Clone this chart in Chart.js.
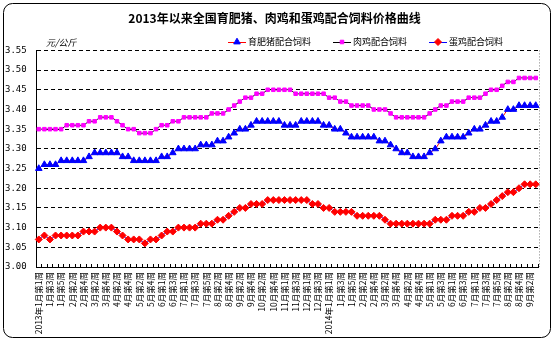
<!DOCTYPE html>
<html>
<head>
<meta charset="utf-8">
<script src="https://cdn.jsdelivr.net/npm/chart.js@4/dist/chart.umd.min.js"></script>
<style>
  html, body { margin: 0; padding: 0; background: #fff; }
  canvas { display: block; }
</style>
</head>
<body>
<canvas id="c" width="554" height="341"></canvas>
<script>
/*
** Chart data
*/
var title = "2013年以来全国育肥猪、肉鸡和蛋鸡配合饲料价格曲线";
var unit = "元/公斤";
var seriesNames = ["育肥猪配合饲料", "肉鸡配合饲料", "蛋鸡配合饲料"];

var weeks = [
  "2013年1月第1周", "1月第2周", "1月第3周", "1月第4周", "1月第5周", "2月第1周", "2月第2周", "2月第3周", "2月第4周", "3月第1周",
  "3月第2周", "3月第3周", "3月第4周", "4月第1周", "4月第2周", "4月第3周", "4月第4周", "5月第1周", "5月第2周", "5月第3周",
  "5月第4周", "5月第5周", "6月第1周", "6月第2周", "6月第3周", "6月第4周", "7月第1周", "7月第2周", "7月第3周", "7月第4周",
  "7月第5周", "8月第1周", "8月第2周", "8月第3周", "8月第4周", "9月第1周", "9月第2周", "9月第3周", "9月第4周", "10月第1周",
  "10月第2周", "10月第3周", "10月第4周", "10月第5周", "11月第1周", "11月第2周", "11月第3周", "11月第4周", "12月第1周", "12月第2周",
  "12月第3周", "12月第4周", "2014年1月第1周", "1月第2周", "1月第3周", "1月第4周", "1月第5周", "2月第1周", "2月第2周", "2月第3周",
  "2月第4周", "3月第1周", "3月第2周", "3月第3周", "3月第4周", "4月第1周", "4月第2周", "4月第3周", "4月第4周", "4月第5周",
  "5月第1周", "5月第2周", "5月第3周", "5月第4周", "6月第1周", "6月第2周", "6月第3周", "6月第4周", "7月第1周", "7月第2周",
  "7月第3周", "7月第4周", "7月第5周", "8月第1周", "8月第2周", "8月第3周", "8月第4周", "9月第1周", "9月第2周", "9月第3周"
];

var pork = [
  3.25, 3.26, 3.26, 3.26, 3.27, 3.27, 3.27, 3.27, 3.27, 3.28,
  3.29, 3.29, 3.29, 3.29, 3.29, 3.28, 3.28, 3.27, 3.27, 3.27,
  3.27, 3.27, 3.28, 3.28, 3.29, 3.30, 3.30, 3.30, 3.30, 3.31,
  3.31, 3.31, 3.32, 3.32, 3.33, 3.34, 3.35, 3.35, 3.36, 3.37,
  3.37, 3.37, 3.37, 3.37, 3.36, 3.36, 3.36, 3.37, 3.37, 3.37,
  3.37, 3.36, 3.36, 3.35, 3.35, 3.34, 3.33, 3.33, 3.33, 3.33,
  3.33, 3.32, 3.32, 3.31, 3.30, 3.29, 3.29, 3.28, 3.28, 3.28,
  3.29, 3.30, 3.32, 3.33, 3.33, 3.33, 3.33, 3.34, 3.35, 3.35,
  3.36, 3.37, 3.37, 3.38, 3.40, 3.40, 3.41, 3.41, 3.41, 3.41
];

var broiler = [
  3.35, 3.35, 3.35, 3.35, 3.35, 3.36, 3.36, 3.36, 3.36, 3.37,
  3.37, 3.38, 3.38, 3.38, 3.37, 3.36, 3.35, 3.35, 3.34, 3.34,
  3.34, 3.35, 3.36, 3.36, 3.37, 3.37, 3.38, 3.38, 3.38, 3.38,
  3.38, 3.39, 3.39, 3.39, 3.40, 3.41, 3.42, 3.43, 3.43, 3.44,
  3.44, 3.45, 3.45, 3.45, 3.45, 3.45, 3.44, 3.44, 3.44, 3.44,
  3.44, 3.44, 3.43, 3.43, 3.42, 3.42, 3.41, 3.41, 3.41, 3.41,
  3.40, 3.40, 3.40, 3.39, 3.38, 3.38, 3.38, 3.38, 3.38, 3.38,
  3.39, 3.40, 3.41, 3.41, 3.42, 3.42, 3.42, 3.43, 3.43, 3.43,
  3.44, 3.45, 3.45, 3.46, 3.47, 3.47, 3.48, 3.48, 3.48, 3.48
];

var layer = [
  3.07, 3.08, 3.07, 3.08, 3.08, 3.08, 3.08, 3.08, 3.09, 3.09,
  3.09, 3.10, 3.10, 3.10, 3.09, 3.08, 3.07, 3.07, 3.07, 3.06,
  3.07, 3.07, 3.08, 3.09, 3.09, 3.10, 3.10, 3.10, 3.10, 3.11,
  3.11, 3.11, 3.12, 3.12, 3.13, 3.14, 3.15, 3.15, 3.16, 3.16,
  3.16, 3.17, 3.17, 3.17, 3.17, 3.17, 3.17, 3.17, 3.17, 3.16,
  3.16, 3.15, 3.15, 3.14, 3.14, 3.14, 3.14, 3.13, 3.13, 3.13,
  3.13, 3.13, 3.12, 3.11, 3.11, 3.11, 3.11, 3.11, 3.11, 3.11,
  3.11, 3.12, 3.12, 3.12, 3.13, 3.13, 3.13, 3.14, 3.14, 3.15,
  3.15, 3.16, 3.17, 3.18, 3.19, 3.19, 3.20, 3.21, 3.21, 3.21
];

var yMin = 3.00, yMax = 3.55, yStep = 0.05;

var FONT = '"Noto Sans CJK SC", "Noto Sans", sans-serif';

/*
** Outer frame, unit label and legend
*/
function marker(ctx, ds, x, y) {
    ctx.fillStyle = ds.pointBackgroundColor;
    ctx.strokeStyle = ds.pointBorderColor;
    ctx.lineWidth = 1;
    if (Chart.helpers && Chart.helpers.drawPoint) {
        Chart.helpers.drawPoint(ctx, {pointStyle: ds.pointStyle, radius: ds.pointRadius, rotation: 0, borderWidth: 1}, x, y);
    }
}

var decor = {
    id: 'decor',
    beforeDraw: function (chart) {
        var ctx = chart.ctx;
        ctx.save();
        ctx.fillStyle = '#fff';
        ctx.fillRect(0, 0, chart.width, chart.height);
        ctx.restore();
    },
    afterDraw: function (chart) {
        var ctx = chart.ctx, a = chart.chartArea;
        ctx.save();

        // rounded outer border
        var x0 = 3.5, y0 = 3.5, x1 = chart.width - 3.5, y1 = chart.height - 3.5, r = 9;
        ctx.strokeStyle = '#000';
        ctx.lineWidth = 1;
        ctx.beginPath();
        ctx.moveTo(x0 + r, y0);
        ctx.arcTo(x1, y0, x1, y1, r);
        ctx.arcTo(x1, y1, x0, y1, r);
        ctx.arcTo(x0, y1, x0, y0, r);
        ctx.arcTo(x0, y0, x1, y0, r);
        ctx.closePath();
        ctx.stroke();

        // dotted right edge of the plot
        ctx.strokeStyle = '#808080';
        ctx.setLineDash([1, 2]);
        ctx.beginPath();
        ctx.moveTo(Math.round(a.right) + 0.5, a.top);
        ctx.lineTo(Math.round(a.right) + 0.5, a.bottom);
        ctx.stroke();
        ctx.setLineDash([]);

        // unit
        ctx.fillStyle = '#000';
        ctx.textBaseline = 'middle';
        ctx.font = 'italic 9px ' + FONT;
        ctx.fillText(unit, a.left + 10, a.top - 8);

        // legend: line + marker + text
        ctx.font = '9px ' + FONT;
        var lx = 228, ly = 42;
        chart.data.datasets.forEach(function (ds) {
            ctx.strokeStyle = ds.borderColor;
            ctx.lineWidth = 1;
            ctx.beginPath();
            ctx.moveTo(lx, ly + 0.5);
            ctx.lineTo(lx + 18, ly + 0.5);
            ctx.stroke();
            marker(ctx, ds, lx + 9, ly);
            ctx.fillStyle = '#000';
            ctx.fillText(ds.label, lx + 20, ly);
            lx += 20 + ctx.measureText(ds.label).width + 22;
        });

        ctx.restore();
    }
};

/*
** Build the chart
*/
new Chart(document.getElementById('c'), {
    type: 'line',
    data: {
        labels: weeks,
        datasets: [
            {
                label: seriesNames[0],
                data: pork,
                borderColor: '#ff0000',
                borderWidth: 1,
                pointStyle: 'triangle',
                pointRadius: 3.8,
                pointBackgroundColor: '#0000ff',
                pointBorderColor: '#0000ff',
                pointBorderWidth: 1,
                tension: 0.2
            },
            {
                label: seriesNames[1],
                data: broiler,
                borderColor: '#000000',
                borderWidth: 1,
                pointStyle: 'rect',
                pointRadius: 2.5,
                pointBackgroundColor: '#ff00ff',
                pointBorderColor: '#ff00ff',
                pointBorderWidth: 1,
                tension: 0.2
            },
            {
                label: seriesNames[2],
                data: layer,
                borderColor: '#0000ff',
                borderWidth: 1,
                pointStyle: 'rectRot',
                pointRadius: 3.5,
                pointBackgroundColor: '#ff0000',
                pointBorderColor: '#ff0000',
                pointBorderWidth: 1,
                tension: 0.2
            }
        ]
    },
    options: {
        responsive: false,
        animation: false,
        events: [],
        layout: {padding: {left: 5, right: 10, top: 0, bottom: 4}},
        plugins: {
            legend: {display: false},
            tooltip: {enabled: false},
            title: {
                display: true,
                text: title,
                color: '#000',
                font: {family: FONT, size: 12, weight: 'bold'},
                padding: {top: 11, bottom: 25}
            }
        },
        scales: {
            x: {
                offset: true,
                grid: {offset: true, drawOnChartArea: false, drawTicks: true, tickLength: -3, color: '#000'},
                border: {color: '#000'},
                ticks: {
                    autoSkip: false,
                    maxRotation: 90,
                    minRotation: 90,
                    padding: 8,
                    color: '#000',
                    font: {family: FONT, size: 8.5},
                    callback: function (v, i) { return i % 2 ? '' : this.getLabelForValue(v); }
                },
                afterFit: function (s) { s.height = 70; }
            },
            y: {
                min: yMin,
                max: yMax,
                grid: {color: '#000', drawTicks: false},
                border: {color: '#000', dash: [4, 3]},
                ticks: {
                    stepSize: yStep,
                    crossAlign: 'far',
                    padding: 4,
                    color: '#000',
                    font: {family: '"DejaVu Sans Mono", monospace', size: 9},
                    callback: function (v) { return v.toFixed(2); }
                },
                afterFit: function (s) { s.width = 31; }
            }
        }
    },
    plugins: [decor]
});
</script>
</body>
</html>
